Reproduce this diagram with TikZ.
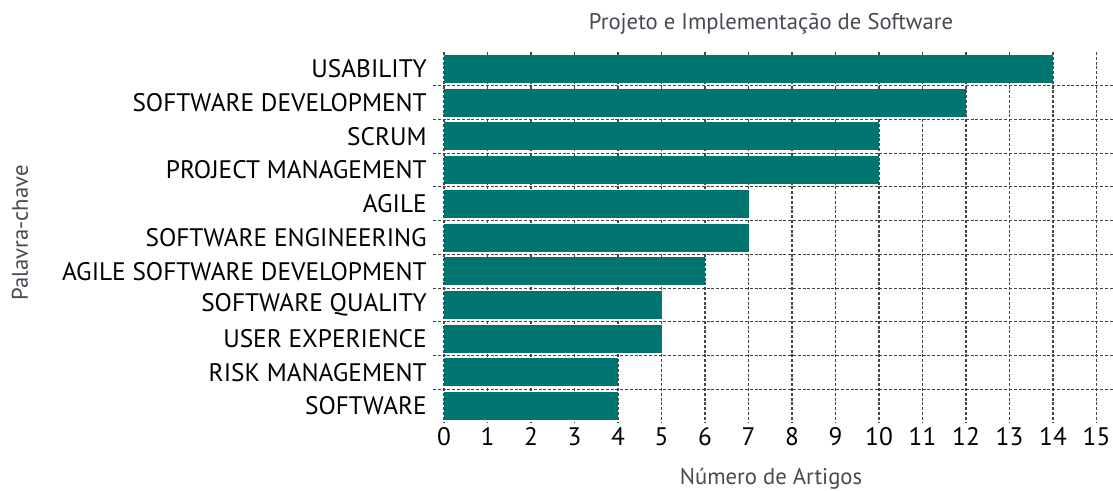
\documentclass[tikz,border=0pt]{standalone}
\usepackage{fontspec}
\setmainfont{PT Sans}
\definecolor{barteal}{RGB}{0,117,111}
\definecolor{titlegray}{RGB}{78,70,82}
\definecolor{gridgray}{RGB}{70,70,70}
\begin{document}
\begin{tikzpicture}[x=0.75pt,y=-0.75pt,
				bar/.style={fill=barteal},
				gridline/.style={gridgray,line width=0.8pt,dash pattern=on 2.2pt off 1.4pt},
				keyword/.style={anchor=east,inner sep=0pt,font=\fontsize{19}{22}\selectfont},
				ticklabel/.style={anchor=north,inner sep=0pt,font=\fontsize{19}{22}\selectfont},
				axislabel/.style={text=titlegray,inner sep=0pt,font=\fontsize{17}{20}\selectfont}]
\useasboundingbox (0,0) rectangle (1113,490);
% grid
\foreach \v in {0,...,15}
	\draw[gridline] ({444+43.5*\v},52) -- ({444+43.5*\v},423);
\foreach \i in {0,...,9}
	\draw[gridline] (433,{85.85+33.7*\i}) -- (1113,{85.85+33.7*\i});
% bars
\foreach \n/\val [count=\i from 0] in {USABILITY/14,SOFTWARE DEVELOPMENT/12,SCRUM/10,
		PROJECT MANAGEMENT/10,AGILE/7,SOFTWARE ENGINEERING/7,AGILE SOFTWARE DEVELOPMENT/6,
		SOFTWARE QUALITY/5,USER EXPERIENCE/5,RISK MANAGEMENT/4,SOFTWARE/4}
{
	\fill[bar] (444,{55+33.7*\i}) rectangle ({444+43.5*\val},{83+33.7*\i});
	\node[keyword] (key\i) at (427,{69+33.7*\i}) {\n};
}
% ticks
\foreach \v in {0,...,15}
	\node[ticklabel] (tick\v) at ({444+43.5*\v},427) {\v};
% titles
\node[axislabel] (title) at (771,24) {Projeto e Implementação de Software};
\node[axislabel] (xlabel) at (771,479) {Número de Artigos};
\node[axislabel,rotate=90] (ylabel) at (20,233) {Palavra-chave};
\end{tikzpicture}
\end{document}
